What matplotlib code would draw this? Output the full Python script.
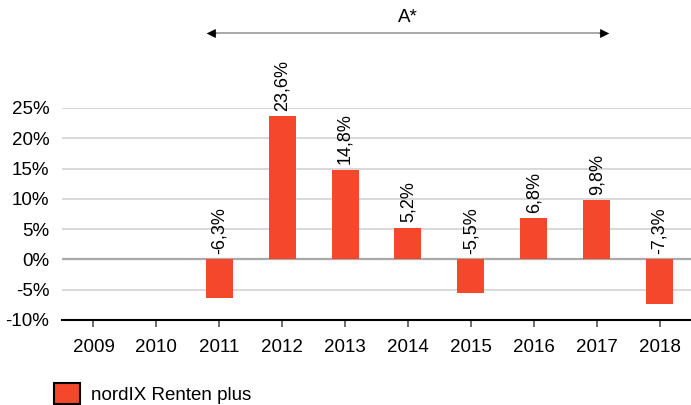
# Annual returns bar chart with a bracket arrow over the A* period.
import numpy as np
import matplotlib
matplotlib.use('Agg')
import matplotlib.pyplot as plt

plt.rcParams['font.family'] = ['Liberation Sans', 'DejaVu Sans']

# --------------------------------------------------------------------------- #
# Data.
years = ['2009', '2010', '2011', '2012', '2013', '2014', '2015', '2016', '2017', '2018']
returns = [np.nan, np.nan, -6.3, 23.6, 14.8, 5.2, -5.5, 6.8, 9.8, -7.3]
yticks = [-10, -5, 0, 5, 10, 15, 20, 25]
series_name = 'nordIX Renten plus'
period_label = 'A*'
period_start = '2011'
period_end = '2017'

bar_color = '#f4472b'

# --------------------------------------------------------------------------- #
fig = plt.figure(figsize=(6.91, 4.05), dpi=100)
ax = fig.add_axes([62 / 691, 1 - 320 / 405, 1 - 62 / 691, (320 - 108) / 405])

x = np.arange(len(years))
bars = ax.bar(x, returns, width=0.43, color=bar_color, zorder=3, label=series_name)

# Value labels, rotated, sitting above the bar or above zero.
for xi, v in zip(x, returns):
    if np.isnan(v):
        continue
    base = max(v, 0)
    ax.annotate(('%.1f%%' % v).replace('.', ','), (xi, base), xytext=(0, 4),
                textcoords='offset points', rotation=90, ha='center',
                va='bottom', fontsize=13, annotation_clip=False)

ax.set_xlim(-0.5, len(years) - 0.5)
ax.set_ylim(-10, 25)
ax.set_xticks(x)
ax.set_xticklabels(years, fontsize=13.5)
ax.set_yticks(yticks)
ax.set_yticklabels(['%d%%' % t for t in yticks], fontsize=13.5)

# Grid and spines.
for t in yticks[1:]:
    ax.axhline(t, color='#d2d2d2', lw=1.2, zorder=1)
ax.axhline(0, color='#aaaaaa', lw=1.6, zorder=2)
for s in ['top', 'right', 'left']:
    ax.spines[s].set_visible(False)
ax.spines['bottom'].set_linewidth(1.5)
ax.spines['bottom'].set_color('black')
ax.tick_params(axis='y', length=0, pad=9)
ax.tick_params(axis='x', length=5, width=1.2, color='#555555', pad=9)

# Bracket arrow over the period: gray shaft, black heads.
i0 = years.index(period_start)
i1 = years.index(period_end)
ya = 37.3
ax.plot([i0 - 0.15, i1 + 0.15], [ya, ya], color='#999999', lw=1.2, clip_on=False)
for xs, xe in [(i0 - 0.05, i0 - 0.2), (i1 + 0.05, i1 + 0.2)]:
    ax.annotate('', xy=(xe, ya), xytext=(xs, ya),
                arrowprops=dict(arrowstyle='-|>', color='black', lw=0.6,
                                mutation_scale=14, shrinkA=0, shrinkB=0),
                annotation_clip=False)
ax.text((i0 + i1) / 2, 38.5, period_label, ha='center', va='bottom',
        fontsize=13.5, clip_on=False)

# Legend, partly cut at the bottom edge like the original.
leg = fig.legend(handles=[bars], labels=[series_name], loc='center left',
                 bbox_to_anchor=(54 / 691, 1 - 393.5 / 405), frameon=False,
                 borderpad=0, borderaxespad=0, handlelength=1.4,
                 handleheight=1.4, handletextpad=0.6, fontsize=13.5)
for p in leg.get_patches():
    p.set_edgecolor('black')
    p.set_linewidth(1.5)

plt.savefig('out.png', dpi=100)
